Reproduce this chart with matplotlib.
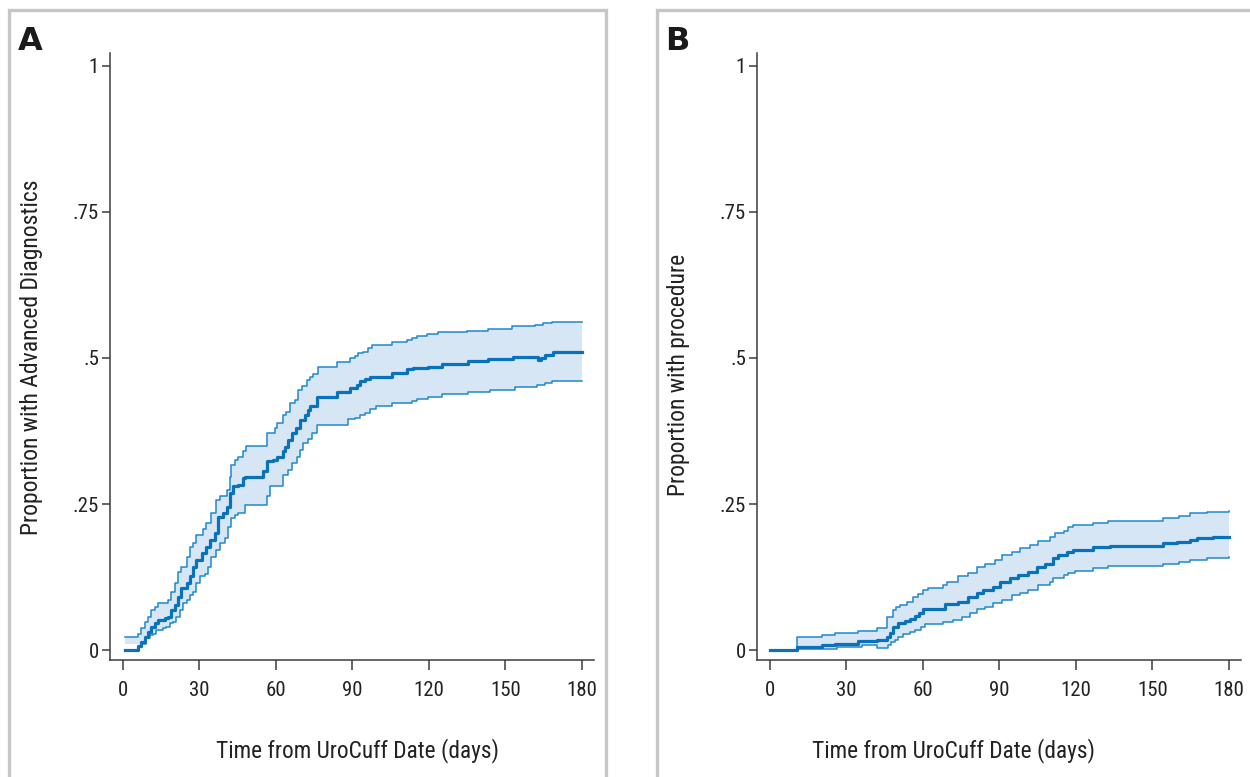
import numpy as np
import matplotlib
matplotlib.use("Agg")
import matplotlib.pyplot as plt
from matplotlib.patches import Rectangle

plt.rcParams['font.family'] = ['Roboto Condensed', 'Liberation Sans', 'DejaVu Sans']

# ---- panel A: advanced diagnostics (days, cumulative proportion) ----
a_t = [1, 6, 7.3, 8.6, 9.9, 11.2, 12.5, 13.9, 16.5, 17.8,
       19.1, 20.4, 21.7, 23, 25, 26.3, 27.6, 28.9, 30.9, 32.8,
       34.1, 36.1, 37.4, 39.3, 40.7, 42, 43.3, 45.2, 47.2, 47.8,
       55, 56.4, 59, 60.3, 62.9, 63.6, 64.8, 66.2, 68.1, 69.5,
       71.5, 72.7, 73.4, 76, 83.9, 89.1, 91.7, 92.9, 94.9, 96.9,
       105.5, 111.4, 113.9, 119.8, 125, 135.5, 143.4, 153.2, 163, 164.2,
       165.6, 168.9, 180]
a_est = [0, .007, .014, .023, .031, .040, .046, .051, .055, .057,
         .068, .077, .091, .106, .114, .126, .143, .154, .166, .177,
         .188, .200, .228, .234, .245, .268, .280, .283, .294, .297,
         .306, .323, .325, .331, .340, .348, .360, .371, .380, .394,
         .402, .411, .417, .434, .442, .448, .454, .460, .464, .468,
         .475, .481, .483, .485, .489, .494, .498, .501, .497, .500,
         .505, .511, .511]

a_up_t = [1, 6, 7.3, 8.6, 9.9, 11.2, 12.5, 13.9, 17.8, 19.1,
          20.4, 21.7, 23, 25, 26.3, 27.6, 28.9, 31.5, 32.8, 34.8,
          36.7, 38, 40.7, 42, 42.6, 43.9, 45.2, 47.2, 48.5, 56.4,
          59.6, 60.3, 62.9, 64.2, 65.5, 67.5, 68.9, 70.2, 72.2, 73.4,
          74.7, 76.7, 83.9, 89.1, 91.1, 92.4, 94.2, 96.3, 97.6, 105.5,
          111.4, 113.3, 115.3, 119.2, 123.8, 134.9, 143.4, 152.5, 161.7, 164.9,
          168.2, 180]
a_up = [.022, .028, .037, .048, .057, .068, .073, .080, .086, .100,
        .114, .134, .143, .160, .177, .183, .197, .208, .217, .234,
        .257, .263, .274, .297, .317, .325, .331, .340, .349, .371,
        .380, .388, .402, .408, .423, .428, .445, .452, .462, .467,
        .473, .485, .493, .500, .503, .508, .511, .517, .522, .527,
        .531, .534, .538, .541, .544, .547, .550, .554, .557, .560,
        .562, .562]

a_lo_t = [1, 7.3, 9.3, 10.6, 11.9, 13.2, 15.8, 17.1, 18.4, 19.7,
          21, 22.4, 23.6, 25, 26.3, 27.6, 28.9, 30.2, 32.2, 33.5,
          34.8, 36.7, 38, 40, 41.3, 42.6, 43.9, 45.2, 47.8, 56.4,
          57.6, 62.9, 64.8, 66.2, 68.2, 69.5, 70.8, 72.8, 74.1, 76,
          88.4, 91, 92.9, 94.9, 96.9, 99.5, 105.5, 113.3, 115.2, 119.8,
          125, 135.5, 144, 153.8, 162.3, 165.5, 168.2, 180]
a_lo = [.010, .011, .020, .026, .028, .034, .037, .040, .046, .048,
        .057, .068, .080, .086, .094, .100, .114, .126, .131, .143,
        .160, .171, .183, .191, .211, .226, .231, .234, .248, .263,
        .280, .300, .308, .320, .331, .342, .354, .362, .371, .385,
        .395, .397, .402, .406, .412, .418, .423, .426, .430, .434,
        .438, .441, .446, .450, .454, .457, .460, .460]

# ---- panel B: procedure ----
b_t = [0, 10.5, 20.3, 25.5, 34.7, 41.9, 45.8, 47.1, 48.4, 50.4,
       53, 55, 56.9, 58.5, 60.2, 68.7, 73.9, 77.9, 81.2, 83.7,
       87.7, 90.3, 94.2, 97.5, 101.4, 104.7, 108, 111.2, 113.2, 116.5,
       119.1, 126.9, 133.5, 154.4, 159.7, 164.9, 167.5, 174, 180]
b_est = [0, .005, .009, .011, .015, .018, .023, .030, .039, .046,
         .050, .054, .058, .064, .071, .079, .083, .090, .097, .103,
         .108, .117, .123, .128, .134, .142, .148, .157, .163, .168,
         .172, .177, .178, .183, .185, .188, .191, .193, .193]

b_up_t = [0, 10.5, 20.3, 25.5, 34.7, 41.9, 45.8, 48.4, 49.7, 51,
          53.7, 56.3, 58.2, 60.2, 62.2, 68, 69.4, 73.9, 77.9, 81.2,
          84.4, 88.3, 91, 94.9, 98.2, 102.1, 105.3, 109.9, 111.9, 115.2,
          117.1, 119.1, 126.9, 132.8, 154.4, 160.3, 164.9, 171.5, 180]
b_up = [0, .023, .026, .030, .033, .037, .057, .068, .073, .077,
        .083, .091, .096, .103, .107, .111, .117, .126, .132, .142,
        .148, .154, .163, .168, .174, .180, .187, .194, .200, .204,
        .211, .214, .217, .221, .226, .229, .234, .237, .238]

b_lo_t = [0, 10.5, 20.3, 26.2, 36, 41.9, 46.4, 47.7, 49.1, 50.4,
          52.3, 55, 56.9, 59.5, 60.9, 68, 72, 75.3, 78.5, 81.2,
          84.4, 87.7, 91, 94.9, 98.2, 101.4, 105.3, 109.9, 111.2, 115.2,
          117.1, 119.7, 126.9, 132.8, 154.4, 160.3, 164.9, 171.5, 180]
b_lo = [0, .001, .002, .005, .008, .004, .009, .013, .018, .023,
        .028, .031, .035, .040, .044, .048, .052, .057, .064, .070,
        .074, .080, .086, .094, .098, .103, .111, .117, .124, .128,
        .132, .136, .140, .144, .147, .151, .155, .157, .159]

x_ticks = [0, 30, 60, 90, 120, 150, 180]
y_ticks = [0, .25, .5, .75, 1]
y_tick_labels = ['0', '.25', '.5', '.75', '1']

main_col = '#0a72bb'
ci_col = '#2088cc'
fill_col = '#d6e6f4'
spine_col = '#3c3c3c'
text_col = '#222222'

fig = plt.figure(figsize=(12.5, 7.77), dpi=100)

# grey panel frames
for x0, x1 in [(9, 606), (657, 1262)]:
    fig.patches.append(Rectangle((x0 / 1250, -0.05), (x1 - x0) / 1250, 1.05 - 10 / 777,
                                 transform=fig.transFigure, fill=False,
                                 edgecolor='#c6c6c6', linewidth=2.4, zorder=0))

panels = [
    (110, 'A', 'Proportion with Advanced Diagnostics', (a_t, a_est), (a_lo_t, a_lo), (a_up_t, a_up), 0.512, 0.499),
    (757, 'B', 'Proportion with procedure', (b_t, b_est), (b_lo_t, b_lo), (b_up_t, b_up), 0.407, 0.47),
]

for left_px, letter, ylab, est, lo, up, xl_x, yl_y in panels:
    ax = fig.add_axes([left_px / 1250, 1 - 660 / 777, 484 / 1250, 607 / 777])
    # common time grid so the band can be filled
    grid = np.unique(np.concatenate([est[0], lo[0], up[0]]))
    idx = np.searchsorted(lo[0], grid, side='right') - 1
    lo_g = np.array(lo[1])[np.clip(idx, 0, None)]
    idx = np.searchsorted(up[0], grid, side='right') - 1
    up_g = np.array(up[1])[np.clip(idx, 0, None)]
    ax.fill_between(grid, lo_g, up_g, step='post', color=fill_col, linewidth=0, zorder=1)
    ax.step(up[0], up[1], where='post', color=ci_col, linewidth=1.1, zorder=2)
    ax.step(lo[0][1:], lo[1][1:], where='post', color=ci_col, linewidth=1.1, zorder=2)
    ax.step(est[0], est[1], where='post', color=main_col, linewidth=2.3, zorder=3)

    ax.set_xlim(-5.0, 184.8)
    ax.set_ylim(-0.017, 1.022)
    ax.set_xticks(x_ticks)
    ax.set_yticks(y_ticks)
    ax.set_yticklabels(y_tick_labels)
    for s in ['top', 'right']:
        ax.spines[s].set_visible(False)
    for s in ['left', 'bottom']:
        ax.spines[s].set_color(spine_col)
        ax.spines[s].set_linewidth(1.1)
    ax.tick_params(axis='x', direction='out', length=7, width=1.1, color=spine_col,
                   labelsize=15, pad=8, labelcolor=text_col)
    ax.tick_params(axis='y', direction='out', length=6, width=1.1, color=spine_col,
                   labelsize=15, pad=2, labelcolor=text_col)
    ax.set_xlabel('Time from UroCuff Date (days)', fontsize=16.8, color=text_col)
    ax.xaxis.set_label_coords(xl_x, -0.128)
    ax.set_ylabel(ylab, fontsize=17, color=text_col)
    ax.yaxis.set_label_coords(-0.138, yl_y)
    fig.text((left_px - 92) / 1250, 1 - 50 / 777, letter, fontsize=23,
             fontweight='heavy', family=['DejaVu Sans'], color='#1a1a1a',
             ha='left', va='baseline')

fig.savefig('out.png', dpi=100)
